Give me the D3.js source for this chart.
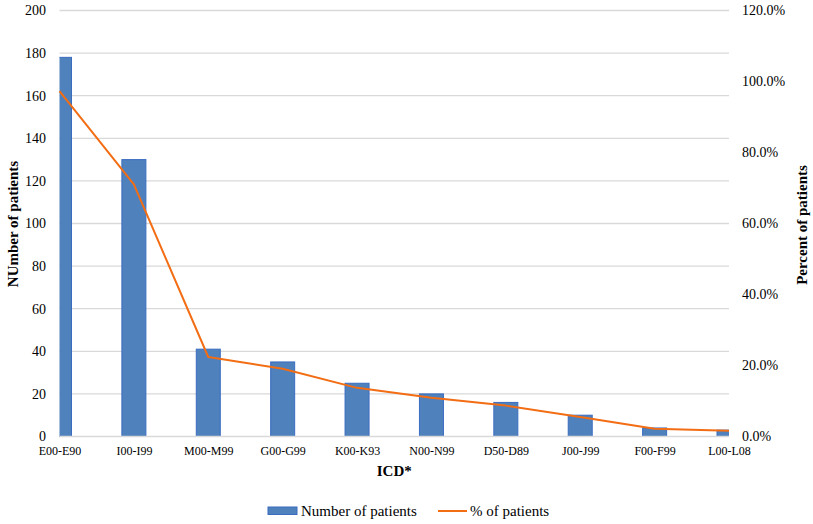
<!DOCTYPE html>
<html>
<head>
<meta charset="utf-8">
<script src="https://cdn.jsdelivr.net/npm/d3@7"></script>
<style>
  html, body { margin: 0; padding: 0; background: #fff; }
  svg { display: block; }
  svg text { font-family: "Liberation Serif", "Times New Roman", Tinos, "DejaVu Serif", serif !important; }
</style>
</head>
<body>
<svg id="chart" width="813" height="524"></svg>
<script>
const categories = ["E00-E90", "I00-I99", "M00-M99", "G00-G99", "K00-K93", "N00-N99", "D50-D89", "J00-J99", "F00-F99", "L00-L08"];
const patientCounts = [178, 130, 41, 35, 25, 20, 16, 10, 4, 3];
const patientPercents = [97.3, 71.0, 22.4, 19.1, 13.7, 10.9, 8.7, 5.5, 2.2, 1.6];
const leftTicks = [0, 20, 40, 60, 80, 100, 120, 140, 160, 180, 200];
const rightTicks = [0, 20, 40, 60, 80, 100, 120];

const svg = d3.select("#chart");
const plotLeft = 59.5, plotRight = 729, plotTop = 10.5, plotBottom = 436.5;

const x = d3.scalePoint().domain(categories).range([plotLeft, plotRight]);
const y = d3.scaleLinear().domain([0, 200]).range([plotBottom, plotTop]);
const y2 = d3.scaleLinear().domain([0, 120]).range([plotBottom, plotTop]);

svg.append("defs").append("clipPath").attr("id", "plotclip")
  .append("rect").attr("x", plotLeft).attr("y", 0).attr("width", plotRight - plotLeft).attr("height", plotBottom + 1);

// gridlines
svg.append("g").selectAll("line").data(leftTicks.filter(d => d > 0)).join("line")
  .attr("x1", plotLeft).attr("x2", plotRight)
  .attr("y1", d => y(d)).attr("y2", d => y(d))
  .attr("stroke", "#d9d9d9").attr("stroke-width", 1.3);

// left axis labels
const yAxis = d3.axisLeft(y).tickValues(leftTicks).tickSize(0).tickPadding(0);
const gy = svg.append("g").attr("transform", `translate(${plotLeft - 13.5},0)`).call(yAxis);
gy.select(".domain").remove();
gy.selectAll("text").attr("font-size", 14).attr("fill", "#000");

// right axis labels
const yAxis2 = d3.axisRight(y2).tickValues(rightTicks).tickSize(0).tickPadding(0)
  .tickFormat(d => d.toFixed(1) + "%");
const gy2 = svg.append("g").attr("transform", `translate(${plotRight + 13},0)`).call(yAxis2);
gy2.select(".domain").remove();
gy2.selectAll("text").attr("font-size", 14).attr("fill", "#000");

// bars
const barW = 24;
svg.append("g").attr("clip-path", "url(#plotclip)")
  .selectAll("rect").data(categories).join("rect")
  .attr("x", (d) => x(d) - barW / 2)
  .attr("y", (d, i) => y(patientCounts[i]))
  .attr("width", barW)
  .attr("height", (d, i) => plotBottom - y(patientCounts[i]))
  .attr("fill", "#4f81bd").attr("stroke", "#3a6cc0").attr("stroke-width", 1);

// x axis baseline
svg.append("line").attr("x1", plotLeft).attr("x2", plotRight)
  .attr("y1", plotBottom).attr("y2", plotBottom)
  .attr("stroke", "#d9d9d9").attr("stroke-width", 1.5);

// x axis labels
const xAxis = d3.axisBottom(x).tickSize(0).tickPadding(0);
const gx = svg.append("g").attr("transform", `translate(0,${plotBottom + 9.5})`).call(xAxis);
gx.select(".domain").remove();
gx.selectAll("text").attr("font-size", 12).attr("fill", "#000");

// line
const line = d3.line().x((d, i) => x(categories[i])).y(d => y2(d));
svg.append("path").datum(patientPercents)
  .attr("d", line).attr("fill", "none")
  .attr("stroke", "#f26d13").attr("stroke-width", 2).attr("stroke-linejoin", "round");

// axis titles
svg.append("text").attr("transform", `translate(18,224) rotate(-90)`)
  .attr("text-anchor", "middle").attr("font-size", 15).attr("font-weight", "bold")
  .text("NUmber of patients");
svg.append("text").attr("transform", `translate(807,225) rotate(-90)`)
  .attr("text-anchor", "middle").attr("font-size", 15).attr("font-weight", "bold")
  .text("Percent of patients");
svg.append("text").attr("x", (plotLeft + plotRight) / 2).attr("y", 476)
  .attr("text-anchor", "middle").attr("font-size", 15).attr("font-weight", "bold")
  .text("ICD*");

// legend
const lg = svg.append("g");
lg.append("rect").attr("x", 268).attr("y", 507).attr("width", 29).attr("height", 7.5)
  .attr("fill", "#4f81bd").attr("stroke", "#3a6cc0").attr("stroke-width", 1);
lg.append("text").attr("x", 301).attr("y", 516).attr("font-size", 15).text("Number of patients");
lg.append("line").attr("x1", 438).attr("x2", 467).attr("y1", 511).attr("y2", 511)
  .attr("stroke", "#f26d13").attr("stroke-width", 2);
lg.append("text").attr("x", 470).attr("y", 516).attr("font-size", 15).text("% of patients");
</script>
</body>
</html>
